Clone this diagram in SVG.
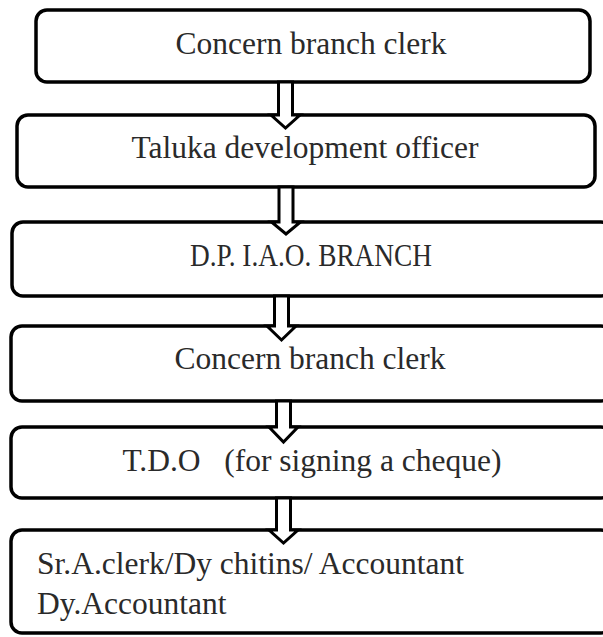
<svg xmlns="http://www.w3.org/2000/svg" width="603" height="637" viewBox="0 0 603 637">
<style>
.box{fill:#fff;stroke:#000;stroke-width:3.5}
.arr{fill:#fff;stroke:#000;stroke-width:3;stroke-linejoin:miter}
.t{font-family:"Liberation Serif","DejaVu Serif",serif;font-size:31.5px;fill:#2a2a2a;text-anchor:middle;white-space:pre}
.l{text-anchor:start}
</style>
<rect width="603" height="637" fill="#fff"/>
<g id="n1"><rect class="box" x="36" y="10" width="554" height="72" rx="11"/><text class="t" x="311" y="54">Concern branch clerk</text></g>
<g id="n2"><rect class="box" x="17" y="115" width="578" height="72" rx="11"/><text class="t" x="305" y="158">Taluka development officer</text></g>
<g id="n3"><rect class="box" x="12" y="222" width="600" height="74" rx="11"/><text class="t" x="311" y="266" textLength="242" lengthAdjust="spacingAndGlyphs">D.P. I.A.O. BRANCH</text></g>
<g id="n4"><rect class="box" x="11" y="326" width="601" height="75" rx="11"/><text class="t" x="310" y="369">Concern branch clerk</text></g>
<g id="n5"><rect class="box" x="11" y="427" width="601" height="71" rx="11"/><text class="t" x="312" y="471">T.D.O   (for signing a cheque)</text></g>
<g id="n6"><rect class="box" x="11" y="530" width="601" height="103" rx="11"/><text class="t l" x="37" y="574">Sr.A.clerk/Dy chitins/ Accountant</text><text class="t l" x="37" y="614">Dy.Accountant</text></g>
<g id="connectors">
<polygon class="arr" points="278.5,82 292.5,82 292.5,115 300,115 285.5,128 271,115 278.5,115"/>
<polygon class="arr" points="279,187 293,187 293,222 300.5,222 286,234 271.5,222 279,222"/>
<polygon class="arr" points="274.5,296 288.5,296 288.5,326 296,326 281.5,340 267,326 274.5,326"/>
<polygon class="arr" points="276.5,401 290.5,401 290.5,427 298,427 283.5,442 269,427 276.5,427"/>
<polygon class="arr" points="276.5,498 290.5,498 290.5,530 298,530 283.5,543 269,530 276.5,530"/>
</g>
</svg>
